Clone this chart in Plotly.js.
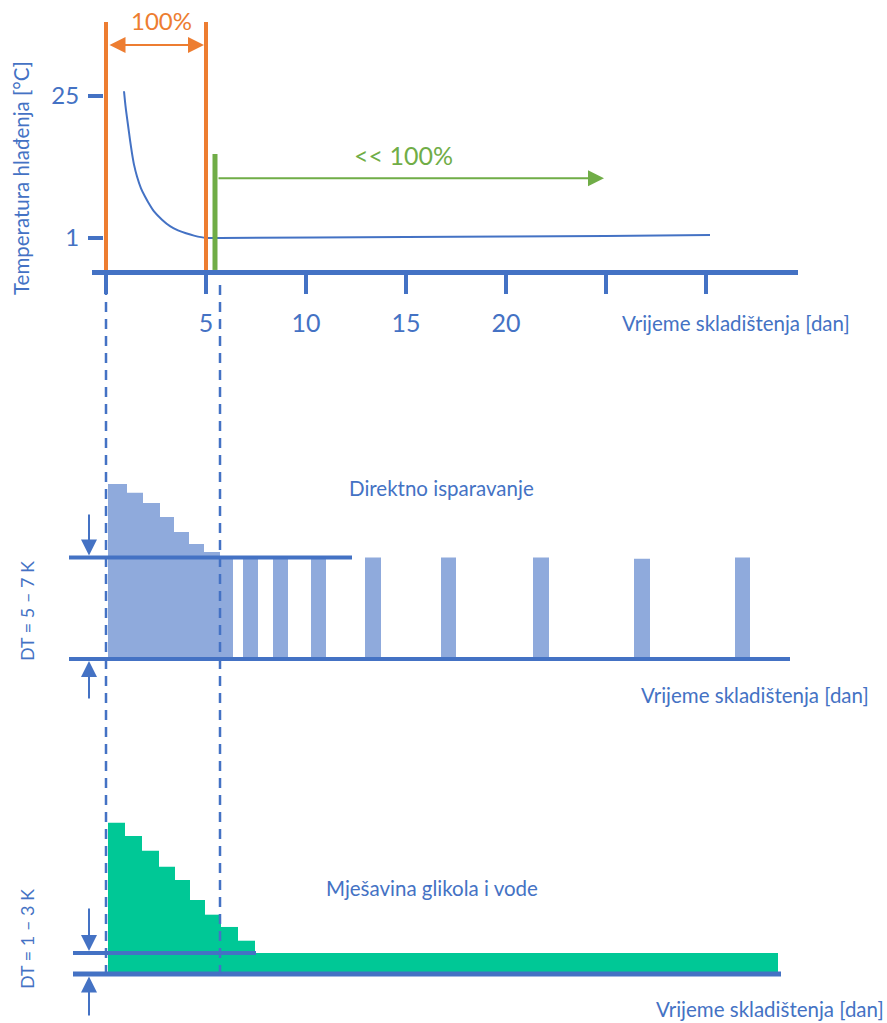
<!DOCTYPE html>
<html>
<head>
<meta charset="utf-8">
<script src="https://cdn.plot.ly/plotly-3.0.1.min.js"></script>
<style>html,body{margin:0;padding:0;background:#fff;}#chart{width:887px;height:1023px;}</style>
</head>
<body>
<div id="chart"></div>
<script>
// ---------- DATA ----------
// Top panel: cooling temperature vs storage time
const tickDays   = [0, 5, 10, 15, 20, 25, 30];
const tickLabels = ['', '5', '10', '15', '20', '', ''];
const tempTicks  = [1, 25];
const tempLabels = ['1', '25'];
const curveDays  = [0.9, 0.95, 1.0, 1.1, 1.2, 1.3, 1.4, 1.55, 1.75, 1.95, 2.1, 2.4, 2.8, 3.2, 3.6, 4.0, 4.4, 5.0, 5.7, 15, 25, 30.2];
const curveTemp  = [25.8, 24.1, 22.6, 20.1, 17.6, 15.3, 13.4, 11.4, 9.4, 8.0, 7.1, 5.5, 4.1, 3.0, 2.3, 1.8, 1.4, 1.0, 1.0, 1.17, 1.34, 1.5];
const precoolBounds = [0, 5];        // 100 % capacity period (days)
const reducedStart  = 5.45;          // start of << 100 % period
const reducedEnd    = 24.9;
const reducedLevel  = 15.2;          // green marker top (°C scale)
const arrowTempFull = 33.6;
const arrowTempRed  = 11.1;
const linkDays      = [0, 5.7];      // dashed link lines

// Middle panel: direct expansion (DT = 5–7 K)
const midStart = [0.1, 1.05, 1.85, 2.7, 3.4, 4.15, 4.9, 5.7, 6.85, 8.35, 10.25, 12.95, 16.75, 21.35, 26.4, 31.45];
const midEnd   = [1.05, 1.85, 2.7, 3.4, 4.15, 4.9, 5.7, 6.35, 7.6, 9.1, 11.0, 13.75, 17.5, 22.15, 27.2, 32.2];
const midLoad  = [10.34, 9.83, 9.22, 8.39, 7.51, 6.8, 6.32, 6.0, 6, 6, 6, 6, 6, 6, 5.92, 6];
const midDT    = [0, 6];
const midLineStart = [-1.85, -1.85];
const midLineEnd   = [34.2, 12.3];

// Bottom panel: glycol-water mixture (DT = 1–3 K)
const botStart = [0.1, 0.95, 1.8, 2.65, 3.45, 4.2, 4.95, 5.75, 6.6, 7.45];
const botEnd   = [0.95, 1.8, 2.65, 3.45, 4.2, 4.95, 5.75, 6.6, 7.45, 33.6];
const botLoad  = [14.41, 13.14, 11.74, 10.22, 8.95, 7.05, 5.65, 4.48, 3.17, 2.0];
const botDT    = [0, 2];
const botLineStart = [-1.65, -1.65];
const botLineEnd   = [33.75, 7.5];

// ---------- STYLE ----------
const BLUE = '#4472C4', ORANGE = '#ED7D31', GREEN = '#70AD47', BARBLUE = '#8FAADC', TEAL = '#00C896';
const FONT = 'Lato, "Open Sans", sans-serif';
const W = 887, H = 1023;
const py = p => 1 - p / H;
const pxX = p => p / W;
const PXDAY = 20, X0 = 106;

const traces = [];
traces.push({x: curveDays, y: curveTemp, xaxis: 'x', yaxis: 'y', type: 'scatter', mode: 'lines',
  line: {color: BLUE, width: 2, shape: 'spline', smoothing: 0.4}, hoverinfo: 'skip'});

traces.push({x: midStart, y: midLoad, width: midStart.map((s, i) => midEnd[i] - s), offset: 0, base: 0,
  type: 'bar', xaxis: 'x2', yaxis: 'y2', marker: {color: BARBLUE, line: {width: 0}}, hoverinfo: 'skip'});
midDT.forEach((lv, i) => traces.push({x: [midLineStart[i], midLineEnd[i]], y: [lv, lv], xaxis: 'x2', yaxis: 'y2',
  type: 'scatter', mode: 'lines', line: {color: BLUE, width: 4}, hoverinfo: 'skip'}));

traces.push({x: botStart, y: botLoad, width: botStart.map((s, i) => botEnd[i] - s), offset: 0, base: 0,
  type: 'bar', xaxis: 'x3', yaxis: 'y3', marker: {color: TEAL, line: {width: 0}}, hoverinfo: 'skip'});
botDT.forEach((lv, i) => traces.push({x: [botLineStart[i], botLineEnd[i]], y: [lv, lv], xaxis: 'x3', yaxis: 'y3',
  type: 'scatter', mode: 'lines', line: {color: BLUE, width: i === 0 ? 5 : 4}, hoverinfo: 'skip'}));

const shapes = [];
precoolBounds.forEach(d => shapes.push({type: 'line', xref: 'x', yref: 'paper', x0: d, x1: d, y0: py(270), y1: py(22),
  line: {color: ORANGE, width: 4}}));
shapes.push({type: 'line', xref: 'x', yref: 'y', x0: reducedStart, x1: reducedStart, y0: -4.4, y1: reducedLevel,
  line: {color: GREEN, width: 5}});
linkDays.forEach((d, i) => shapes.push({type: 'line', xref: 'x2', yref: 'paper', x0: d, x1: d,
  y0: py(975), y1: py(i === 0 ? 276 : 278), line: {color: BLUE, width: 2.5, dash: '10px,7px'}}));

const tf = (size, color) => ({family: FONT, size: size, color: color || BLUE});
const txt = (x, y, text, size, color, angle) => ({xref: 'paper', yref: 'paper', x: pxX(x), y: py(y), text: text,
  showarrow: false, xanchor: 'center', yanchor: 'middle', textangle: angle || 0, font: tf(size, color)});
const arr = (xr, yr, x, y, ax, ay, color, extra) => Object.assign({xref: xr, yref: yr, axref: xr, ayref: yr,
  x: x, y: y, ax: ax, ay: ay, text: '', showarrow: true, arrowhead: 2, arrowsize: 1.6, arrowwidth: 2,
  arrowcolor: color, standoff: 2}, extra || {});

const annotations = [
  arr('x', 'y', precoolBounds[1], arrowTempFull, precoolBounds[0], arrowTempFull, ORANGE, {arrowside: 'end+start', startstandoff: 2}),
  arr('x', 'y', reducedEnd, arrowTempRed, reducedStart + 0.1, arrowTempRed, GREEN, {standoff: 0}),
  Object.assign(txt(0, 21, '100%', 24, ORANGE), {xref: 'x', x: (precoolBounds[0] + precoolBounds[1]) / 2 + 0.25}),
  txt(403, 155, '&lt;&lt; 100%', 25, GREEN),
  txt(21, 178, 'Temperatura hlađenja [°C]', 20.5, BLUE, -90),
  txt(736, 323, 'Vrijeme skladištenja [dan]', 20.5),
  // middle
  txt(441, 488, 'Direktno isparavanje', 20.5),
  txt(755, 695, 'Vrijeme skladištenja [dan]', 20.5),
  txt(27, 611, 'DT = 5 – 7 K', 18, BLUE, -90),
  arr('x2', 'y2', -0.85, midDT[1], -0.85, 8.63, BLUE),
  arr('x2', 'y2', -0.85, midDT[0], -0.85, -2.42, BLUE),
  // bottom
  txt(432, 888, 'Mješavina glikola i vode', 20.5),
  txt(770, 1009, 'Vrijeme skladištenja [dan]', 20.5),
  txt(27, 939, 'DT = 1 – 3 K', 18, BLUE, -90),
  arr('x3', 'y3', -0.85, botDT[1], -0.85, 6.38, BLUE),
  arr('x3', 'y3', -0.85, botDT[0], -0.85, -4.1, BLUE, {standoff: 2.5})
];

const kT = 142 / 24; // px per °C
const hidden = {visible: false, fixedrange: true, showgrid: false, zeroline: false};
const layout = {
  width: W, height: H, margin: {l: 0, r: 0, t: 0, b: 0, pad: 0},
  paper_bgcolor: '#ffffff', plot_bgcolor: 'rgba(0,0,0,0)', showlegend: false, barmode: 'overlay',
  font: {family: FONT, color: BLUE},
  xaxis: {domain: [pxX(92), pxX(798)], range: [(92 - X0) / PXDAY, (798 - X0) / PXDAY], anchor: 'y',
    showline: true, linecolor: BLUE, linewidth: 5, ticks: 'outside', ticklen: 19, tickwidth: 4, tickcolor: BLUE,
    tickmode: 'array', tickvals: tickDays, ticktext: tickLabels, tickfont: tf(25), ticklabelstandoff: 8,
    showgrid: false, zeroline: false, fixedrange: true},
  yaxis: {domain: [py(270), 1], range: [1 - 32 / kT, 1 + 238 / kT], anchor: 'free', position: pxX(103),
    showline: false, ticks: 'outside', ticklen: 15, tickwidth: 4, tickcolor: BLUE,
    tickmode: 'array', tickvals: tempTicks, ticktext: tempLabels, tickfont: tf(24), ticklabelstandoff: 4,
    showgrid: false, zeroline: false, fixedrange: true},
  xaxis2: Object.assign({domain: [0, 1], range: [-X0 / PXDAY, (W - X0) / PXDAY], anchor: 'y2'}, hidden),
  yaxis2: Object.assign({domain: [py(720), py(460)], range: [(659 - 720) / (101.5 / 6), (659 - 460) / (101.5 / 6)], anchor: 'x2'}, hidden),
  xaxis3: Object.assign({domain: [0, 1], range: [-X0 / PXDAY, (W - X0) / PXDAY], anchor: 'y3'}, hidden),
  yaxis3: Object.assign({domain: [0, py(790)], range: [(974 - 1023) / 10.5, (974 - 790) / 10.5], anchor: 'x3'}, hidden),
  shapes: shapes, annotations: annotations
};

Plotly.newPlot('chart', traces, layout, {displayModeBar: false, staticPlot: true});
</script>
</body>
</html>
